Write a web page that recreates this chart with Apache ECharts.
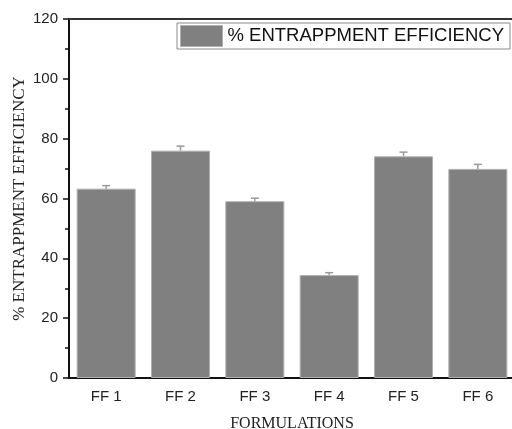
<!DOCTYPE html>
<html>
<head>
<meta charset="utf-8">
<script src="https://cdn.jsdelivr.net/npm/echarts@6/dist/echarts.min.js"></script>
<style>
  html, body { margin: 0; padding: 0; background: #fff; }
  #chart { width: 512px; height: 429px; }
</style>
</head>
<body>
<div id="chart"></div>
<script>
// Entrapment efficiency per formulation, with upper standard-deviation bars
const categories = ['FF 1', 'FF 2', 'FF 3', 'FF 4', 'FF 5', 'FF 6'];
const efficiency = [63.3, 76.0, 59.1, 34.4, 74.1, 69.9];
const deviation = [1.0, 1.5, 1.0, 0.8, 1.4, 1.5];
const yTicks = [0, 20, 40, 60, 80, 100, 120];
const seriesName = '% ENTRAPPMENT EFFICIENCY';

const errorData = categories.map((c, i) => [i, efficiency[i], deviation[i]]);

const chart = echarts.init(document.getElementById('chart'), null, { renderer: 'canvas' });

const sans = 'Liberation Sans, Arial, sans-serif';
const serif = 'Liberation Serif, Times New Roman, serif';

chart.setOption({
  animation: false,
  backgroundColor: '#fff',
  grid: { left: 69, top: 19, width: 446, height: 359, containLabel: false, outerBoundsMode: 'none' },
  legend: {
    data: [seriesName],
    left: 177,
    top: 23,
    padding: [2, 6, 2, 3],
    itemWidth: 42,
    itemHeight: 21,
    icon: 'rect',
    borderColor: '#8a8a8a',
    borderWidth: 1,
    backgroundColor: '#fff',
    textStyle: { fontFamily: sans, fontSize: 18.5, color: '#111' },
    itemStyle: { color: '#808080', borderColor: '#b0b0b0', borderWidth: 1 }
  },
  xAxis: [
    {
      type: 'category',
      data: categories,
      position: 'bottom',
      name: 'FORMULATIONS',
      nameLocation: 'middle',
      nameGap: 38,
      nameMoveOverlap: false,
      nameTextStyle: { fontFamily: serif, fontSize: 16, color: '#222' },
      axisLine: { onZero: false, lineStyle: { color: '#111', width: 2 } },
      axisTick: { alignWithLabel: true, length: 5, lineStyle: { color: '#111', width: 1.5 } },
      axisLabel: { fontFamily: sans, fontSize: 15, color: '#222', margin: 11 },
      splitLine: { show: false }
    },
    {
      // boundary ticks between categories
      type: 'category',
      data: categories,
      position: 'bottom',
      axisLine: { show: false },
      axisTick: { alignWithLabel: false, length: 3, lineStyle: { color: '#111', width: 1.5 } },
      axisLabel: { show: false },
      splitLine: { show: false }
    },
    {
      // top frame line
      type: 'category',
      data: categories,
      position: 'top',
      axisLine: { onZero: false, lineStyle: { color: '#333', width: 2 } },
      axisTick: { show: false },
      axisLabel: { show: false },
      splitLine: { show: false }
    }
  ],
  yAxis: {
    type: 'value',
    min: yTicks[0],
    max: yTicks[yTicks.length - 1],
    interval: yTicks[1] - yTicks[0],
    name: seriesName,
    nameLocation: 'middle',
    nameGap: 41,
    nameMoveOverlap: false,
    nameRotate: 90,
    nameTextStyle: { fontFamily: serif, fontSize: 17, color: '#222' },
    axisLine: { show: true, lineStyle: { color: '#111', width: 2 } },
    axisTick: { show: true, length: 6, lineStyle: { color: '#111', width: 1.5 } },
    minorTick: { show: true, splitNumber: 2, length: 4, lineStyle: { color: '#111', width: 1.5 } },
    axisLabel: { fontFamily: sans, fontSize: 15, color: '#222', margin: 11 },
    splitLine: { show: false }
  },
  series: [
    {
      name: seriesName,
      type: 'bar',
      xAxisIndex: 0,
      data: efficiency,
      barWidth: 59,
      itemStyle: { color: '#808080', borderColor: '#b0b0b0', borderWidth: 1 },
      z: 2
    },
    {
      name: 'error',
      type: 'custom',
      xAxisIndex: 0,
      data: errorData,
      encode: { x: 0, y: 1 },
      z: 3,
      renderItem: function (params, api) {
        const idx = api.value(0);
        const base = api.coord([idx, api.value(1)]);
        const top = api.coord([idx, api.value(1) + api.value(2)]);
        const half = 4;
        const style = { stroke: '#9a9a9a', lineWidth: 1.5 };
        return {
          type: 'group',
          children: [
            { type: 'line', shape: { x1: base[0], y1: base[1], x2: top[0], y2: top[1] }, style: style },
            { type: 'line', shape: { x1: top[0] - half, y1: top[1], x2: top[0] + half, y2: top[1] }, style: style }
          ]
        };
      }
    }
  ]
});
</script>
</body>
</html>
